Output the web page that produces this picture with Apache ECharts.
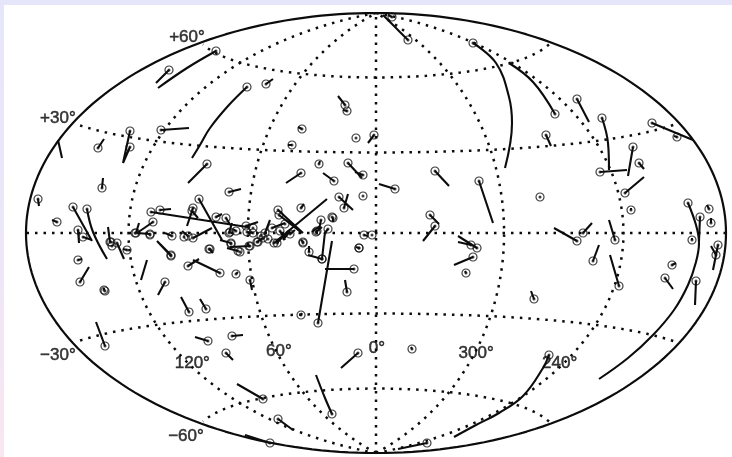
<!DOCTYPE html>
<html><head><meta charset="utf-8">
<style>
html,body{margin:0;padding:0;width:732px;height:457px;overflow:hidden;background:linear-gradient(180deg,#e6e6fb 0%,#ebe6f8 50%,#f9e6f0 100%);}
#paper{position:absolute;left:4px;top:5px;right:0;bottom:0;background:#fff;}
#chart{position:absolute;left:0;top:0;width:732px;height:457px;}
</style>
<script src="https://cdn.jsdelivr.net/npm/echarts@6/dist/echarts.min.js"></script>
</head><body><div id="paper"></div><div id="chart"></div>
<script>
// Projected-plane readings of the map: [star x, star y, vector end x, vector end y]
const straightVectors = [
[169,70,156,83],[266,84,273,79],[161,130,189,128],[130,131,123,163],[130,147,123,163],[98,148,104,139],
[102,188,103,178],[207,164,188,183],[229,192,241,189],[38,199,39,206],[57,222,52,220],[73,207,92,241],
[78,230,79,243],[83,237,92,240],[110,242,108,227],[117,243,124,259],[127,250,123,249],[78,260,82,259],
[80,282,89,267],[104,290,104,288],[136,233,139,223],[151,212,247,227],[160,210,171,209],[153,222,137,233],
[150,234,137,233],[172,236,165,233],[171,256,157,241],[188,236,182,231],[193,238,212,228],[193,208,187,226],
[192,211,198,218],[199,199,222,240],[216,217,222,214],[226,218,231,226],[229,233,232,223],[236,231,233,229],
[209,249,213,253],[188,266,199,259],[220,273,193,260],[231,243,220,240],[246,226,258,222],[250,246,230,247],
[238,251,227,248],[253,233,247,232],[278,210,303,233],[279,215,302,233],[274,243,327,199],[301,208,304,204],
[339,197,353,210],[344,208,348,194],[333,218,333,222],[321,220,319,230],[316,232,322,227],[328,229,324,234],
[364,235,368,236],[359,248,356,247],[303,242,301,240],[309,252,309,246],[322,259,308,255],[322,259,325,232],
[318,323,332,241],[354,269,325,269],[257,242,263,238],[265,233,270,220],[272,228,285,223],[280,231,285,240],
[277,243,287,232],[290,234,295,230],[302,129,298,127],[292,145,288,145],[345,105,338,96],[347,111,343,110],
[301,173,286,183],[319,164,320,161],[334,181,323,173],[348,163,362,178],[363,175,355,172],[374,135,368,143],
[392,17,388,15],[577,99,589,122],[546,135,551,146],[652,123,693,140],[677,137,674,136],[633,147,628,176],
[600,172,627,170],[639,163,644,169],[625,193,644,177],[631,210,631,208],[435,171,449,186],[479,181,493,223],
[395,189,379,184],[430,215,439,224],[435,226,423,241],[700,217,699,241],[709,209,707,205],[711,223,711,218],
[577,241,554,228],[583,233,592,223],[615,240,609,220],[593,261,599,245],[619,286,610,255],[477,248,458,236],
[471,245,458,242],[473,257,454,265],[466,273,465,271],[534,299,531,291],[412,349,411,347],[427,443,398,449],
[692,240,692,238],[672,265,676,263],[665,278,673,289],[696,281,695,305],[718,245,713,270],[716,255,711,246],
[171,255,157,241],[210,249,213,253],[236,274,238,272],[250,280,252,290],[165,282,158,295],[189,312,181,297],
[206,309,200,299],[347,292,345,280],[301,315,302,313],[105,346,96,322],[208,341,195,337],[232,336,243,335],
[226,353,233,360],[358,353,341,368],[263,399,237,384],[278,419,293,430],[270,443,245,435]
];
// Stars whose vector is too short to read
const bareStars = [
[356,138],[363,196],[332,217],[540,197],[372,235],[105,291],[135,233],[230,232],[258,242],[263,238],
[303,243],[317,231],[285,224],[247,232],[111,242],[112,246],[231,244],[150,235],[359,248],[184,237],
[240,252],[249,246],[261,236],[268,239],[253,228]
];
// Long curved vectors: x,y,x,y... from the star onward
const curvedVectors = [
[216,51,187,68,158,88],
[247,87,228,106,210,128,200,145,192,158],
[87,209,93,232,107,259],
[332,414,325,398,316,375],
[408,40,396,28,383,15],
[473,43,496,63,509,97,512,123,505,168],
[555,114,533,82,509,63],
[602,118,608,143,609,170],
[549,355,543,368,523,396,499,413,476,425,454,437],
[688,203,696,225,699,243,696,262,688,285,674,310,653,335,628,358,599,379]
];
// Vectors with no star (wrapped across the map edge)
const strayVectors = [[58,140,62,158],[147,260,141,280],[312,232,320,226],[283,240,290,231]];
const latLabels = ['+60°','+30°','0°','\u221230°','\u221260°'];
const latValues = [60,30,0,-30,-60];
const lonLabels = ['120°','60°','0°','300°','240°'];
const lonValues = [120,60,0,-60,-120];
const meridians = [-120,-60,0,60,120];
const parallels = [-60,-30,0,30,60];

const CX=376, CY=233, AX=350, AY=220;
function hammer(lon,lat){
  const l=lon*Math.PI/360, p=lat*Math.PI/180, d=Math.sqrt(1+Math.cos(p)*Math.cos(l));
  return [CX-AX*Math.cos(p)*Math.sin(l)/d, CY-AY*Math.sin(p)/d];
}
function curve(fn,a,b){const o=[];for(let i=0;i<=120;i++){const t=a+(b-a)*i/120;o.push(fn(t));}return o;}

const ink='#0c0c0c';
const graticule=[];
meridians.forEach(m=>graticule.push(curve(t=>hammer(m,t),-90,90)));
parallels.forEach(p=>{const e=p===0?180:175;graticule.push(curve(t=>hammer(t,p),-e,e));});
const series=graticule.map(d=>({type:'line',data:d,showSymbol:false,silent:true,lineStyle:{color:ink,width:2.5,type:[2.5,6]}}));
series.push({type:'line',data:curve(t=>hammer(180,t),-90,90).concat(curve(t=>hammer(-180,t),90,-90)),showSymbol:false,silent:true,lineStyle:{color:ink,width:2.2}});

const paths=[];
straightVectors.concat(strayVectors).forEach(v=>{paths.push([v[0],v[1]],[v[2],v[3]],[null,null]);});
series.push({type:'line',data:paths,connectNulls:false,showSymbol:false,silent:true,lineStyle:{color:ink,width:2.1}});
curvedVectors.forEach(v=>{
  const pts=[];for(let i=0;i<v.length;i+=2)pts.push([v[i],v[i+1]]);
  series.push({type:'line',data:pts,smooth:0.4,showSymbol:false,silent:true,lineStyle:{color:ink,width:2.1}});
});

const stars=straightVectors.map(v=>[v[0],v[1]]).concat(bareStars,curvedVectors.map(v=>[v[0],v[1]]));
series.push({type:'scatter',data:stars,symbol:'circle',symbolSize:8,silent:true,itemStyle:{color:'rgba(0,0,0,0)',borderColor:'#111',borderWidth:1.2}});
series.push({type:'scatter',data:stars,symbol:'circle',symbolSize:3,silent:true,itemStyle:{color:ink}});

const textStyle={fontFamily:'Liberation Sans',fontSize:17,color:'#0a0a0a',textBorderColor:'#0a0a0a',textBorderWidth:0.5};
const latOffsets=[[-14,-5],[-15,-5],[-10,-5],[-15,12],[-15,13]];
series.push({type:'scatter',symbolSize:0,silent:true,
  data:latLabels.map((s,i)=>{const q=hammer(180,latValues[i]);
    return {value:[q[0]+latOffsets[i][0],q[1]+latOffsets[i][1]],label:{show:true,formatter:s,position:'inside',...textStyle}};})});
const lonOffsets=[[6,2],[3,1],[1,1],[0,3],[-6,2]];
series.push({type:'scatter',symbolSize:0,silent:true,
  data:lonLabels.map((s,i)=>{const q=hammer(lonValues[i],-43);
    return {value:[q[0]+lonOffsets[i][0],q[1]+lonOffsets[i][1]],label:{show:true,formatter:s,position:'inside',...textStyle}};})});

const chart=echarts.init(document.getElementById('chart'),null,{renderer:'canvas'});
chart.setOption({
  animation:false,
  backgroundColor:'transparent',
  grid:{left:26,top:13,width:700,height:440},
  xAxis:{type:'value',min:26,max:726,show:false},
  yAxis:{type:'value',min:13,max:453,inverse:true,show:false},
  tooltip:{show:false},
  series:series
});
</script></body></html>
